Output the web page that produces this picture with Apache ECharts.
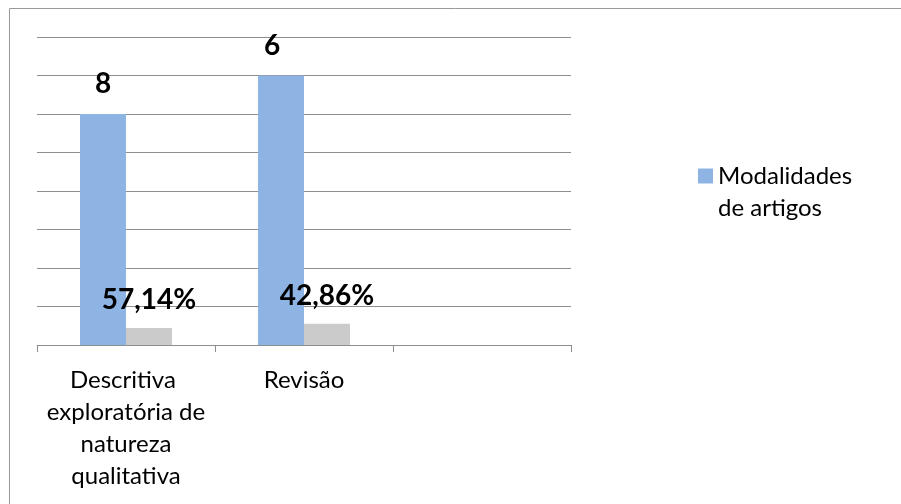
<!DOCTYPE html>
<html>
<head>
<meta charset="utf-8">
<script src="https://cdn.jsdelivr.net/npm/echarts@6/dist/echarts.min.js"></script>
<style>
html,body{margin:0;padding:0;background:#fff;}
#chart{width:901px;height:504px;}
</style>
</head>
<body>
<div id="chart"></div>
<script>
var categories = ['Descritiva exploratória de natureza qualitativa', 'Revisão', ''];
var seriesName = 'Modalidades de artigos';
var blueValues = [6, 7, null];
var blueLabels = ['8', '6', ''];
var grayValues = [0.44, 0.55, null];
var grayLabels = ['57,14%', '42,86%', ''];

var FONT = 'Lato, "Open Sans", sans-serif';
var chart = echarts.init(document.getElementById('chart'), null, {renderer: 'canvas'});

var blueData = blueValues.map(function (v, i) {
  var d = {value: v};
  if (i === 1) d.label = {offset: [-9, 0]};
  return d;
});

var option = {
  animation: false,
  backgroundColor: '#ffffff',
  graphic: [{
    type: 'rect',
    shape: {x: 9.5, y: 8.5, width: 1000, height: 1000},
    style: {fill: 'none', stroke: '#9a9a9a', lineWidth: 1},
    silent: true
  }],
  grid: {left: 37, right: 330, top: 37, bottom: 159, containLabel: false},
  legend: {
    data: [seriesName],
    orient: 'vertical',
    left: 698,
    top: 128,
    padding: 0,
    itemWidth: 15,
    itemHeight: 15,
    itemGap: 10,
    icon: 'rect',
    formatter: function () { return ' \nModalidades\nde artigos'; },
    textStyle: {fontFamily: FONT, fontSize: 24, color: '#000', lineHeight: 32}
  },
  xAxis: {
    type: 'category',
    data: categories,
    axisLine: {show: true, lineStyle: {color: '#8e8e8e', width: 1}},
    axisTick: {show: true, length: 7, lineStyle: {color: '#8e8e8e'}},
    axisLabel: {
      interval: 0,
      margin: 19,
      width: 175,
      overflow: 'break',
      fontFamily: FONT,
      fontSize: 24,
      lineHeight: 32,
      color: '#000',
      align: 'center'
    }
  },
  yAxis: {
    type: 'value',
    min: 0,
    max: 8,
    interval: 1,
    axisLine: {show: false},
    axisTick: {show: false},
    axisLabel: {show: false},
    splitLine: {show: true, lineStyle: {color: '#8e8e8e', width: 1}}
  },
  series: [{
    name: seriesName,
    type: 'bar',
    data: blueData,
    barWidth: 46,
    barGap: '0%',
    itemStyle: {color: '#8eb4e3'},
    label: {
      show: true,
      position: 'top',
      distance: 16,
      fontFamily: FONT,
      fontSize: 28,
      fontWeight: 'bold',
      color: '#000',
      formatter: function (p) { return blueLabels[p.dataIndex]; }
    }
  }, {
    name: 'pct',
    type: 'bar',
    data: grayValues,
    barWidth: 46,
    barGap: '0%',
    itemStyle: {color: '#cbcbcb'},
    label: {
      show: true,
      position: 'top',
      distance: 14,
      fontFamily: FONT,
      fontSize: 28,
      fontWeight: 'bold',
      color: '#000',
      formatter: function (p) { return grayLabels[p.dataIndex]; }
    }
  }]
};
chart.setOption(option);
</script>
</body>
</html>
